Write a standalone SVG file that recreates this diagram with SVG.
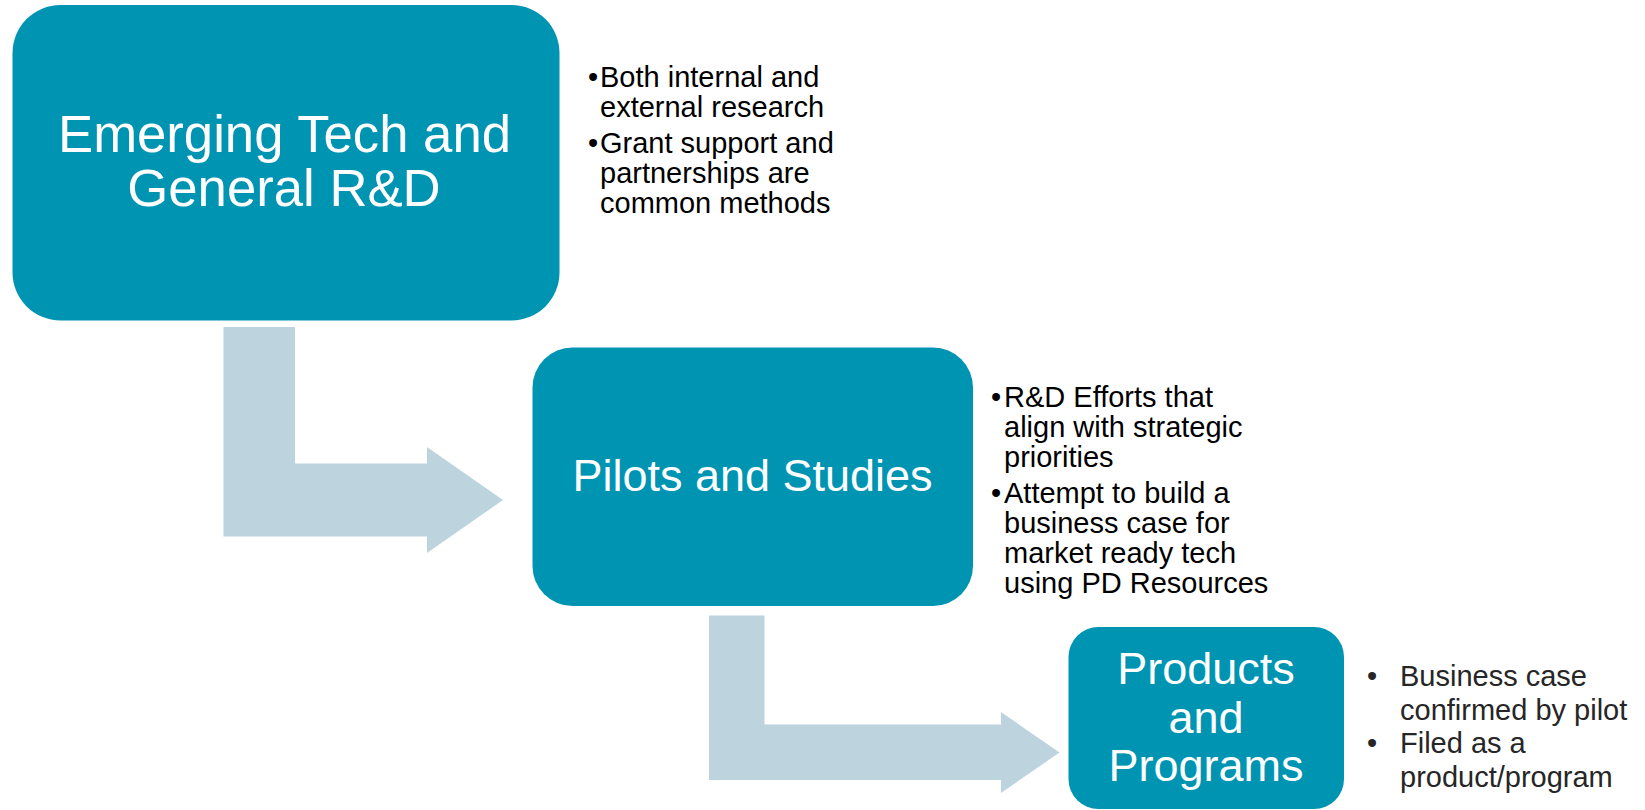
<svg xmlns="http://www.w3.org/2000/svg" width="1645" height="810" viewBox="0 0 1645 810">
<style>
.box{fill:#0094B3;}
.arrow{fill:#BDD4DF;}
.title{font-family:"Liberation Sans",Arial,sans-serif;fill:#ffffff;text-anchor:middle;}
.bul{font-family:"Liberation Sans",Arial,sans-serif;font-size:29px;fill:#000000;}
.bul3{font-family:"Liberation Sans",Arial,sans-serif;font-size:29px;fill:#262626;}
</style>
<rect width="1645" height="810" fill="#ffffff"/>
<g id="connectors">
<path class="arrow" d="M223.5,327 H295 V463.5 H427 V447 L503,500 L427,553 V536.5 H223.5 Z"/>
<path class="arrow" d="M709,615.5 H764.5 V724.5 H1001 V712 L1059.5,752.5 L1001,793 V780 H709 Z"/>
</g>
<g id="node1">
<rect class="box" x="12.5" y="5" width="547" height="315.5" rx="48" ry="48"/>
<text class="title" font-size="52.7" x="284.5" y="152">Emerging Tech and</text>
<text class="title" font-size="52.7" x="284" y="206">General R&amp;D</text>
</g>
<g id="notes1" class="bul">
<text x="588" y="87">•</text><text x="600" y="87">Both internal and</text>
<text x="600" y="117">external research</text>
<text x="588" y="153">•</text><text x="600" y="153">Grant support and</text>
<text x="600" y="183">partnerships are</text>
<text x="600" y="213">common methods</text>
</g>
<g id="node2">
<rect class="box" x="532.5" y="347.5" width="440.5" height="258.5" rx="40" ry="40"/>
<text class="title" font-size="45" x="752.5" y="491">Pilots and Studies</text>
</g>
<g id="notes2" class="bul">
<text x="991" y="407">•</text><text x="1004" y="407">R&amp;D Efforts that</text>
<text x="1004" y="437">align with strategic</text>
<text x="1004" y="467">priorities</text>
<text x="991" y="503">•</text><text x="1004" y="503">Attempt to build a</text>
<text x="1004" y="533">business case for</text>
<text x="1004" y="563">market ready tech</text>
<text x="1004" y="593">using PD Resources</text>
</g>
<g id="node3">
<rect class="box" x="1068.5" y="627" width="275.5" height="182" rx="30" ry="30"/>
<text class="title" font-size="45" x="1206" y="684">Products</text>
<text class="title" font-size="45" x="1206" y="733">and</text>
<text class="title" font-size="45" x="1206" y="781">Programs</text>
</g>
<g id="notes3" class="bul3">
<text x="1367" y="686">•</text><text x="1400" y="686">Business case</text>
<text x="1400" y="719.5">confirmed by pilot</text>
<text x="1367" y="753">•</text><text x="1400" y="753">Filed as a</text>
<text x="1400" y="786.5">product/program</text>
</g>
</svg>
